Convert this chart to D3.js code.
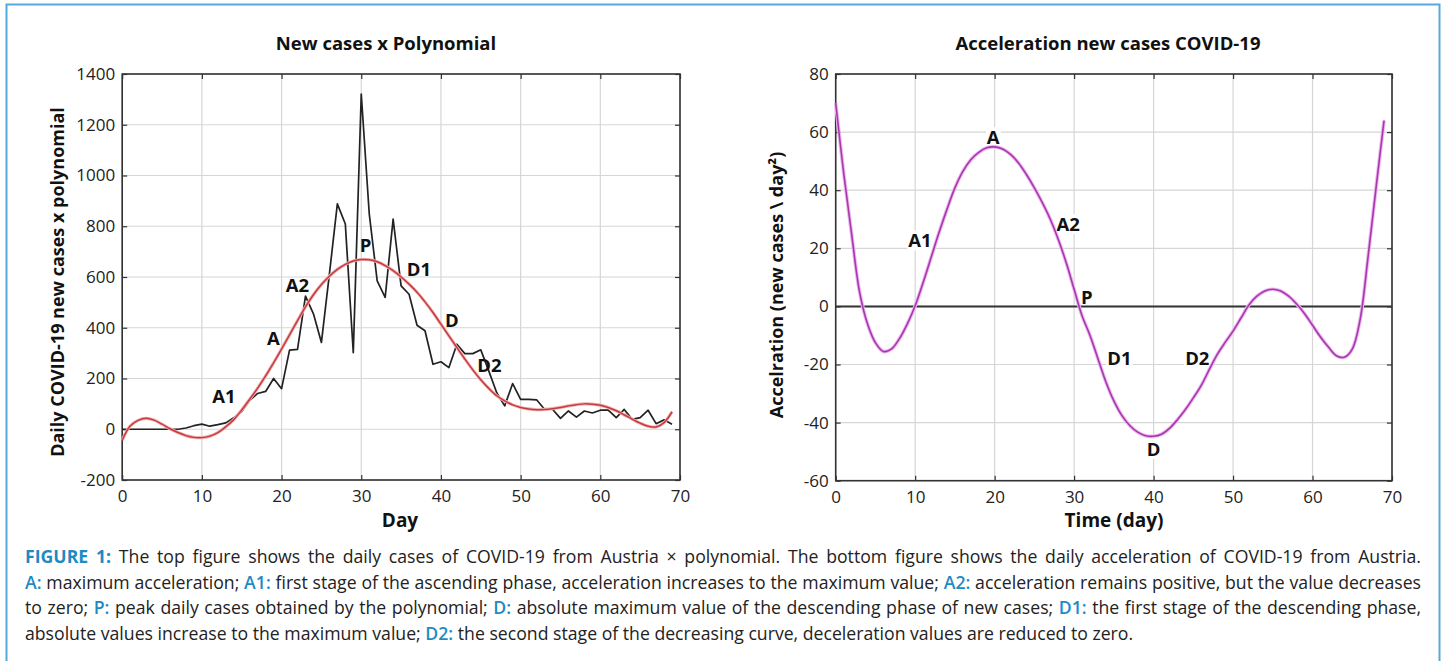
<!DOCTYPE html>
<html><head><meta charset="utf-8">
<script src="https://cdn.jsdelivr.net/npm/d3@7"></script>
<style>
html,body{margin:0;padding:0;background:#fff;}
svg{display:block;font-family:"Open Sans","Noto Sans",sans-serif;}
</style></head>
<body>
<script>
// ---------- DATA ----------
const days = [0,1,2,3,4,5,6,7,8,9,10,11,12,13,14,15,16,17,18,19,20,21,22,23,24,25,26,27,28,29,30,31,32,33,34,35,36,37,38,39,40,41,42,43,44,45,46,47,48,49,50,51,52,53,54,55,56,57,58,59,60,61,62,63,64,65,66,67,68,69];
const dailyCases = [0,0,0,0,0,0,0,0,5,14,20,12,18,25,45,70,114,141,149,200,160,312,315,525,455,342,611,888,809,302,1321,850,585,520,828,565,532,410,388,256,266,243,335,298,298,313,230,144,92,180,118,118,116,79,79,43,72,48,72,64,75,75,46,78,39,46,75,22,37,20];
const polynomialFit = [-43,13,35,43,36,20,2,-13,-25,-32,-33,-27,-13,10,38,76,118,162,210,262,316,372,428,482,530,570,603,630,650,663,669,668,660,645,625,600,572,540,502,460,414,368,322,277,234,195,161,132,112,96,86,80,77,78,81,86,92,97,100,99,95,86,73,57,40,24,12,9,26,69];
const acceleration = [70,46,25,5,-6,-12.5,-15.5,-14.7,-11.2,-6.1,0.2,8.2,16.8,25.4,33.4,40.8,46.5,50.5,53,54.6,54.9,54.2,52.3,49.4,45.4,40.8,35.7,30,23.1,15.1,5.9,-3.2,-10,-18,-26,-32.5,-37.5,-41,-43.3,-44.5,-44.7,-44,-42,-39,-35.5,-31.5,-27.2,-21.8,-16.6,-12.4,-8.5,-4,0.5,3.5,5.3,5.9,5.3,3.5,0.8,-2.5,-6.5,-10.5,-14,-17,-17.5,-14.7,-4.4,17.4,41,64];

const xTicks = [0,10,20,30,40,50,60,70];
const yTicksLeft = [-200,0,200,400,600,800,1000,1200,1400];
const yTicksRight = [-60,-40,-20,0,20,40,60,80];

const leftLabels = ["A1","A","A2","P","D1","D","D2"];
const leftLabelDays = [12.77,18.96,22,30.53,37.24,41.38,46.08];
const leftLabelVals = [105,331,539,697,605,404,227];
const rightLabels = ["A","A1","A2","P","D1","D2","D"];
const rightLabelDays = [19.8,10.6,29.25,31.6,35.7,45.5,40];
const rightLabelVals = [55.8,20.3,25.9,0.8,-20,-20,-51.4];

const captionLines = [
  [["FIGURE 1:",1],[" The top figure shows the daily cases of COVID-19 from Austria × polynomial. The bottom figure shows the daily acceleration of COVID-19 from Austria.",0]],
  [["A:",2],[" maximum acceleration; ",0],["A1:",2],[" first stage of the ascending phase, acceleration increases to the maximum value; ",0],["A2:",2],[" acceleration remains positive, but the value decreases",0]],
  [["to zero; ",0],["P:",2],[" peak daily cases obtained by the polynomial; ",0],["D:",2],[" absolute maximum value of the descending phase of new cases; ",0],["D1:",2],[" the first stage of the descending phase,",0]],
  [["absolute values increase to the maximum value; ",0],["D2:",2],[" the second stage of the decreasing curve, deceleration values are reduced to zero.",0]]
];

// ---------- SETUP ----------
const W = 1446, H = 661;
const svg = d3.select("body").append("svg").attr("width", W).attr("height", H);
svg.append("rect").attr("width", W).attr("height", H).attr("fill", "#fff");
svg.append("rect").attr("x", 6.5).attr("y", 4.5).attr("width", 1433).attr("height", 680)
  .attr("fill", "none").attr("stroke", "#56a9dc").attr("stroke-width", 2);

function panel(cfg) {
  const {x, y, yTicks, title, titleX, xLabel, xLabelX, yLabel, yLabelX, yLabelY} = cfg;
  const g = svg.append("g");
  const [x0, x1] = x.range(), [y0, y1] = y.range();
  g.append("g").selectAll("line").data(xTicks).join("line")
    .attr("x1", d => x(d)).attr("x2", d => x(d)).attr("y1", y0).attr("y2", y1)
    .attr("stroke", "#d6d6d6").attr("stroke-width", 1.2);
  g.append("g").selectAll("line").data(yTicks).join("line")
    .attr("y1", d => y(d)).attr("y2", d => y(d)).attr("x1", x0).attr("x2", x1)
    .attr("stroke", "#d6d6d6").attr("stroke-width", 1.2);
  const fmt = d => String(d);
  const ax = g.append("g").attr("transform", `translate(0,${y0})`)
    .call(d3.axisBottom(x).tickValues(xTicks).tickSizeInner(-5).tickSizeOuter(0).tickPadding(10).tickFormat(fmt));
  const at = g.append("g").attr("transform", `translate(0,${y1})`)
    .call(d3.axisTop(x).tickValues(xTicks).tickSizeInner(-5).tickSizeOuter(0).tickFormat(""));
  const al = g.append("g").attr("transform", `translate(${x0},0)`)
    .call(d3.axisLeft(y).tickValues(yTicks).tickSizeInner(-5).tickSizeOuter(0).tickPadding(7).tickFormat(fmt));
  const ar = g.append("g").attr("transform", `translate(${x1},0)`)
    .call(d3.axisRight(y).tickValues(yTicks).tickSizeInner(-5).tickSizeOuter(0).tickFormat(""));
  [ax, at, al, ar].forEach(a => {
    a.select(".domain").remove();
    a.selectAll("line").attr("stroke", "#333").attr("stroke-width", 1.2);
    a.selectAll("text").attr("font-size", "17px").attr("fill", "#222").attr("font-family", "'Open Sans',sans-serif");
  });
  g.append("rect").attr("x", x0).attr("y", y1).attr("width", x1 - x0).attr("height", y0 - y1)
    .attr("fill", "none").attr("stroke", "#333").attr("stroke-width", 1.6);
  svg.append("text").attr("x", titleX).attr("y", 50).attr("text-anchor", "middle")
    .attr("font-weight", "bold").attr("font-size", "18.5px").attr("fill", "#111").text(title);
  svg.append("text").attr("x", xLabelX).attr("y", 527).attr("text-anchor", "middle")
    .attr("font-weight", "bold").attr("font-size", "19px").attr("fill", "#111").text(xLabel);
  svg.append("text").attr("transform", `translate(${yLabelX},${yLabelY}) rotate(-90)`)
    .attr("text-anchor", "middle").attr("font-weight", "bold").attr("font-size", "18px")
    .attr("fill", "#111").text(yLabel);
  return g;
}

// ---------- LEFT ----------
const xL = d3.scaleLinear().domain([0, 70]).range([122.2, 680]);
const yL = d3.scaleLinear().domain([-200, 1400]).range([480, 74]);
const gL = panel({x: xL, y: yL, yTicks: yTicksLeft, title: "New cases x Polynomial", titleX: 386,
  xLabel: "Day", xLabelX: 400, yLabel: "Daily COVID-19 new cases x polynomial", yLabelX: 64, yLabelY: 282});

const lineCases = d3.line().x((d, i) => xL(days[i])).y(d => yL(d));
gL.append("path").datum(dailyCases).attr("d", lineCases).attr("fill", "none")
  .attr("stroke", "#222").attr("stroke-width", 1.7).attr("stroke-linejoin", "round");
const linePoly = d3.line().x((d, i) => xL(days[i])).y(d => yL(d)).curve(d3.curveCatmullRom);
gL.append("path").datum(polynomialFit).attr("d", linePoly).attr("fill", "none")
  .attr("stroke", "#f0b0b0").attr("stroke-width", 3.2);
gL.append("path").datum(polynomialFit).attr("d", linePoly).attr("fill", "none")
  .attr("stroke", "#c63a40").attr("stroke-width", 1.5);

gL.append("g").selectAll("text").data(leftLabels).join("text")
  .attr("x", (d, i) => xL(leftLabelDays[i])).attr("y", (d, i) => yL(leftLabelVals[i]))
  .attr("text-anchor", "middle").attr("font-weight", "bold").attr("font-size", "18.5px")
  .attr("fill", "#111").text(d => d);

// ---------- RIGHT ----------
const xR = d3.scaleLinear().domain([0, 70]).range([835.7, 1392]);
const yR = d3.scaleLinear().domain([-60, 80]).range([480.7, 74]);
const gR = panel({x: xR, y: yR, yTicks: yTicksRight, title: "Acceleration new cases COVID-19", titleX: 1108,
  xLabel: "Time (day)", xLabelX: 1114, yLabel: "Accelration (new cases \\ day²)", yLabelX: 783, yLabelY: 285});

const rl = gR.append("g").selectAll("g").data(rightLabels).join("g");
rl.append("text")
  .attr("x", (d, i) => xR(rightLabelDays[i])).attr("y", (d, i) => yR(rightLabelVals[i]))
  .attr("text-anchor", "middle").attr("font-weight", "bold").attr("font-size", "18.5px")
  .attr("fill", "#111").text(d => d)
  .each(function () {
    const b = this.getBBox();
    d3.select(this.parentNode).insert("rect", "text").attr("x", b.x - 1).attr("y", b.y + 3)
      .attr("width", b.width + 2).attr("height", b.height - 5).attr("fill", "#fff");
  });

gR.append("line").attr("x1", xR(0)).attr("x2", xR(70)).attr("y1", yR(0)).attr("y2", yR(0))
  .attr("stroke", "#333").attr("stroke-width", 2);
const lineAcc = d3.line().x((d, i) => xR(days[i])).y(d => yR(d)).curve(d3.curveCatmullRom);
gR.append("path").datum(acceleration).attr("d", lineAcc).attr("fill", "none")
  .attr("stroke", "#efb3f2").attr("stroke-width", 3.6);
gR.append("path").datum(acceleration).attr("d", lineAcc).attr("fill", "none")
  .attr("stroke", "#a43aaa").attr("stroke-width", 1.6);

// ---------- CAPTION ----------
const capX0 = 25, capX1 = 1421, capBase = [563, 588.5, 614, 639.5];
const capG = svg.append("g").attr("font-family", "'Open Sans',sans-serif");
function buildLine(i, size) {
  const t = capG.append("text").attr("x", capX0).attr("y", capBase[i]).attr("font-size", size + "px")
    .attr("fill", "#222").attr("xml:space", "preserve");
  captionLines[i].forEach(([s, k]) => {
    t.append("tspan").text(s)
      .attr("fill", k ? "#1e8ac4" : "#222")
      .attr("font-weight", k === 1 ? "bold" : (k === 2 ? 600 : null));
  });
  return t;
}
const probe = buildLine(3, 16);
const natural = probe.node().getComputedTextLength();
const fsCap = 16 * (1109 / natural);
probe.remove();
captionLines.forEach((l, i) => {
  const t = buildLine(i, fsCap);
  if (i < 3) {
    const w = t.node().getComputedTextLength();
    const str = l.map(p => p[0]).join("");
    const spaces = (str.match(/ /g) || []).length;
    t.attr("word-spacing", ((capX1 - capX0 - w) / spaces) + "px");
  }
});
</script>
</body></html>
